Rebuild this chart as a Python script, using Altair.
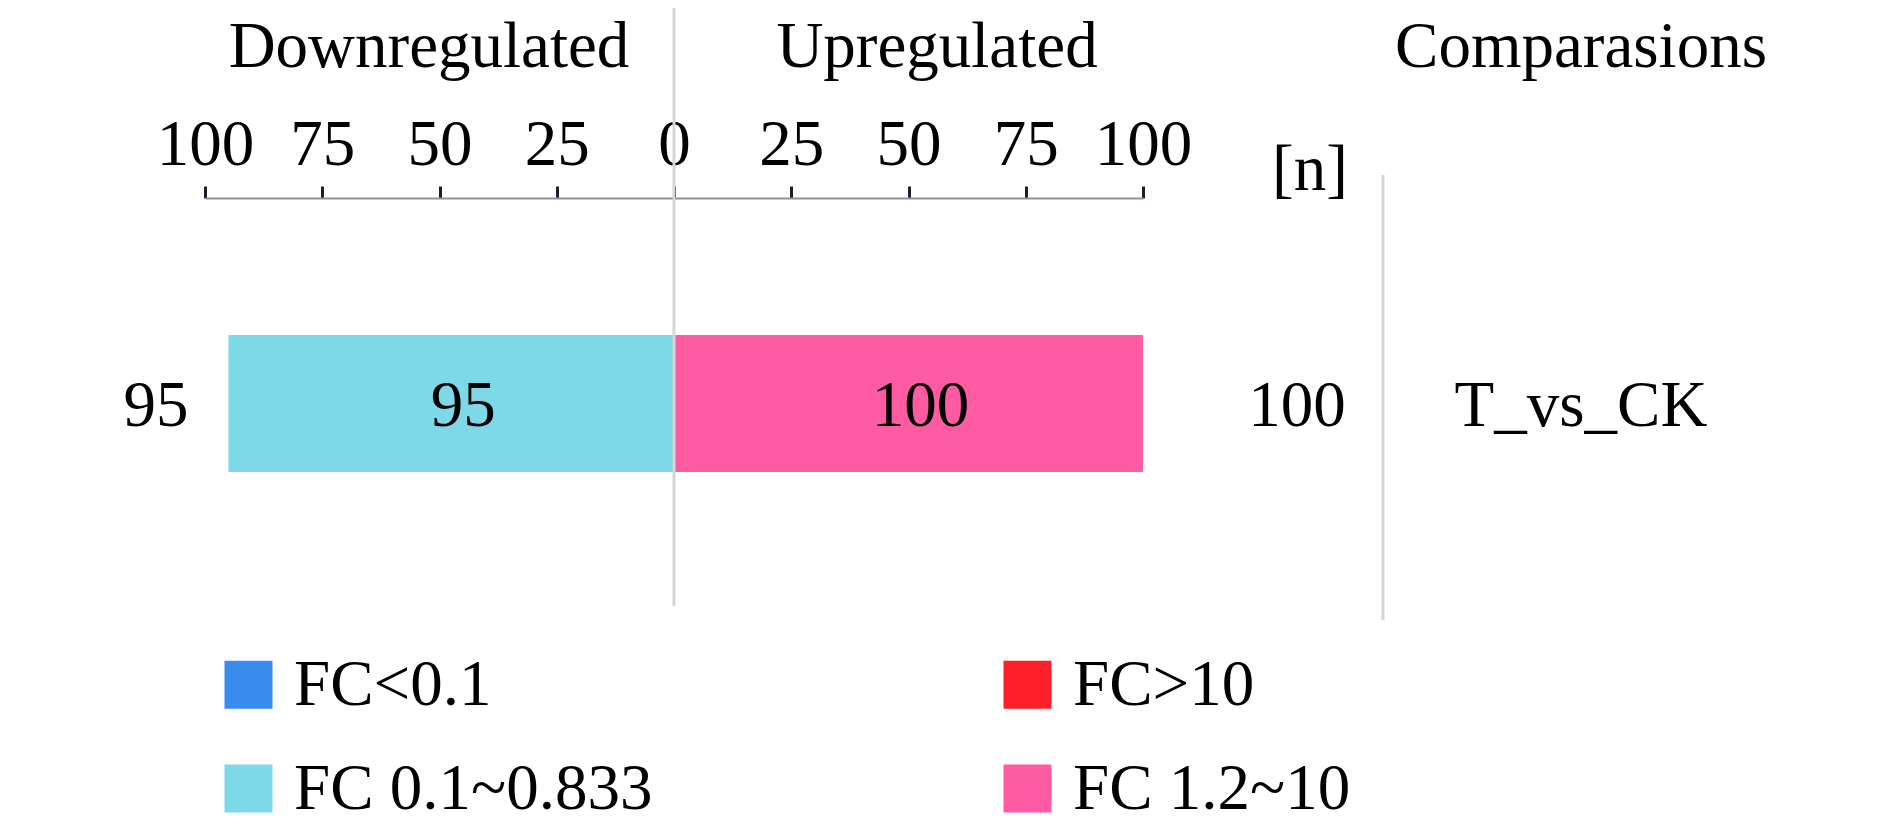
import altair as alt
import pandas as pd

# ---- data ----
comparisons = ["T_vs_CK"]
categories = ["FC<0.1", "FC 0.1~0.833", "FC>10", "FC 1.2~10"]
directions = ["Downregulated", "Downregulated", "Upregulated", "Upregulated"]
counts = [0, 95, 0, 100]
category_colors = ["#3A8BEE", "#7DD8E8", "#FF1F28", "#FF5BA3"]
headers = ["Downregulated", "Upregulated", "Comparasions"]
tick_values = [-100, -75, -50, -25, 0, 25, 50, 75, 100]

FONT = "'Liberation Serif', 'Times New Roman', Times, 'DejaVu Serif', serif"
FS = 65

df = pd.DataFrame({
    "comparison": [comparisons[0]] * len(categories),
    "category": categories,
    "direction": directions,
    "count": counts,
})
df["signed"] = [c if d == "Upregulated" else -c for c, d in zip(counts, directions)]

base = alt.Chart(df)

yenc = alt.Y("comparison:N", axis=None,
             scale=alt.Scale(paddingOuter=1, paddingInner=0))
xscale = alt.Scale(domain=[-100, 100], nice=False)

bars = base.transform_stack(
    stack="signed", groupby=["comparison"], as_=["s0", "s1"]
).mark_bar().encode(
    x=alt.X("s0:Q", scale=xscale,
            axis=alt.Axis(orient="top", values=tick_values, labelExpr="abs(datum.value)",
                          title=None, grid=False, domainColor="#8C9296", domainWidth=2,
                          tickColor="#1E1E2E", tickWidth=3, tickSize=12,
                          labelFont=FONT, labelFontSize=FS, labelColor="black",
                          labelBaseline="alphabetic", labelPadding=22,
                          labelOverlap=False, labelFlush=False)),
    x2="s1:Q",
    y=yenc,
    color=alt.Color("category:N",
                    scale=alt.Scale(domain=categories, range=category_colors),
                    legend=alt.Legend(orient="none", legendX=11, legendY=454, columns=2,
                                      title=None, symbolType="square", symbolSize=2304,
                                      symbolStrokeWidth=0, symbolOpacity=1,
                                      labelFont=FONT, labelFontSize=FS, labelColor="black",
                                      labelOffset=13, labelLimit=0, rowPadding=38,
                                      columnPadding=342, padding=0)),
)

inner = base.transform_stack(
    stack="signed", groupby=["comparison"], as_=["s0", "s1"]
).transform_filter("datum.count > 0").transform_calculate(
    mid="(datum.s0 + datum.s1) / 2"
).mark_text(font=FONT, fontSize=FS, color="black", baseline="alphabetic", dy=22, dx=12).encode(
    x=alt.X("mid:Q", scale=xscale), y=yenc, text="count:Q"
)

totals = base.transform_aggregate(
    total="sum(count)", groupby=["comparison", "direction"]
)
left_total = totals.transform_filter("datum.direction == 'Downregulated'").mark_text(
    font=FONT, fontSize=FS, color="black", baseline="alphabetic", dy=22
).encode(x=alt.value(-49), y=yenc, text="total:Q")
right_total = totals.transform_filter("datum.direction == 'Upregulated'").mark_text(
    font=FONT, fontSize=FS, color="black", baseline="alphabetic", dy=22
).encode(x=alt.value(1092), y=yenc, text="total:Q")

comp_label = alt.Chart(pd.DataFrame({"comparison": comparisons})).mark_text(
    font=FONT, fontSize=FS, color="black", baseline="alphabetic", dy=22
).encode(x=alt.value(1376), y=alt.value(205.5), text="comparison:N")

hdf = pd.DataFrame({"h": headers})
head_down = alt.Chart(hdf).transform_filter(f"datum.h == '{headers[0]}'").mark_text(
    font=FONT, fontSize=FS, color="black", baseline="alphabetic"
).encode(x=alt.value(224), y=alt.value(-131), text="h:N")
head_up = alt.Chart(hdf).transform_filter(f"datum.h == '{headers[1]}'").mark_text(
    font=FONT, fontSize=FS, color="black", baseline="alphabetic"
).encode(x=alt.value(732), y=alt.value(-131), text="h:N")
head_comp = alt.Chart(hdf).transform_filter(f"datum.h == '{headers[2]}'").mark_text(
    font=FONT, fontSize=FS, color="black", baseline="alphabetic"
).encode(x=alt.value(1376), y=alt.value(-131), text="h:N")

unit = alt.Chart(pd.DataFrame({"u": ["[n]"]})).mark_text(
    font=FONT, fontSize=FS, color="black", baseline="alphabetic"
).encode(x=alt.value(1105), y=alt.value(-8), text="u:N")

center_line = alt.Chart(pd.DataFrame({"z": [0]})).mark_rule(
    color="#D6D6D6", strokeWidth=3
).encode(x=alt.X("z:Q", scale=xscale), y=alt.value(-198), y2=alt.value(408))

right_line = alt.Chart(pd.DataFrame({"z": [0]})).mark_rule(
    color="#D6D6D6", strokeWidth=3
).encode(x=alt.value(1178), y=alt.value(-23), y2=alt.value(422))

chart = alt.layer(
    bars, center_line, right_line, inner, left_total, right_total, comp_label,
    head_down, head_up, head_comp, unit
).properties(
    width=938, height=411,
    background="white",
    autosize=alt.AutoSizeParams(type="none"),
    padding={"left": 197, "top": 190, "right": 735, "bottom": 220},
).configure_view(strokeWidth=0, stroke="transparent")

chart.save("out.html", embed_options={"renderer": "svg", "actions": False})
